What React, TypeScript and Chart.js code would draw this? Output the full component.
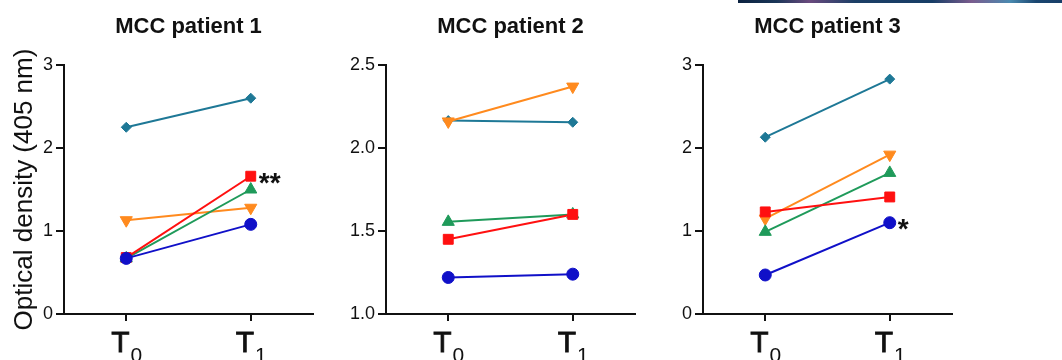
import React, { useEffect, useRef } from 'react';
import { Chart, registerables } from 'chart.js';
import { drawPoint } from 'chart.js/helpers';

Chart.register(...registerables);

const FONT = '"Liberation Sans", Arial, sans-serif';

// ---- data ----
const timepoints = ['T0', 'T1'];
const seriesNames = ['LT1', 'LT2', 'LT4', 'sT1', 'sT3'];
const seriesColors = ['#1010c8', '#ff1010', '#1f9a5a', '#ff8a1e', '#1e7896'];
const pointStyles = ['circle', 'rect', 'triangle', 'triangle', 'rectRot'];
const pointRotations = [0, 0, 0, 180, 0];
const pointRadii = [6, 7, 7, 7, 5];

const patient1LT1 = [0.67, 1.08];
const patient1LT2 = [0.68, 1.66];
const patient1LT4 = [0.67, 1.5];
const patient1sT1 = [1.13, 1.28];
const patient1sT3 = [2.25, 2.6];

const patient2LT1 = [1.22, 1.24];
const patient2LT2 = [1.45, 1.6];
const patient2LT4 = [1.555, 1.6];
const patient2sT1 = [2.16, 2.37];
const patient2sT3 = [2.165, 2.155];

const patient3LT1 = [0.47, 1.1];
const patient3LT2 = [1.23, 1.41];
const patient3LT4 = [0.99, 1.7];
const patient3sT1 = [1.15, 1.92];
const patient3sT3 = [2.13, 2.83];

const panelTitles = ['MCC patient 1', 'MCC patient 2', 'MCC patient 3'];
const yTicksPatient1 = [0, 1, 2, 3];
const yTickLabelsPatient1 = ['0', '1', '2', '3'];
const yTicksPatient2 = [1.0, 1.5, 2.0, 2.5];
const yTickLabelsPatient2 = ['1.0', '1.5', '2.0', '2.5'];
const yTicksPatient3 = [0, 1, 2, 3];
const yTickLabelsPatient3 = ['0', '1', '2', '3'];
const yAxisTitle = 'Optical density (405 nm)';

// significance marks
const marksPatient1 = [{ series: 1, time: 1, text: '**' }];
const marksPatient2: { series: number; time: number; text: string }[] = [];
const marksPatient3 = [{ series: 0, time: 1, text: '*' }];

// ---- layout ----
const legendRowsY = [45, 79, 113, 147, 176];

type PanelDef = {
  data: number[][];
  yTicks: number[];
  yLabels: string[];
  title: string;
  yWidth: number;
  padRight: number;
  showYTitle: boolean;
  marks: { series: number; time: number; text: string }[];
  legend: boolean;
};

const panels: PanelDef[] = [
  {
    data: [patient1LT1, patient1LT2, patient1LT4, patient1sT1, patient1sT3],
    yTicks: yTicksPatient1,
    yLabels: yTickLabelsPatient1,
    title: panelTitles[0],
    yWidth: 64,
    padRight: 17,
    showYTitle: true,
    marks: marksPatient1,
    legend: false,
  },
  {
    data: [patient2LT1, patient2LT2, patient2LT4, patient2sT1, patient2sT3],
    yTicks: yTicksPatient2,
    yLabels: yTickLabelsPatient2,
    title: panelTitles[1],
    yWidth: 56,
    padRight: 15,
    showYTitle: false,
    marks: marksPatient2,
    legend: false,
  },
  {
    data: [patient3LT1, patient3LT2, patient3LT4, patient3sT1, patient3sT3],
    yTicks: yTicksPatient3,
    yLabels: yTickLabelsPatient3,
    title: panelTitles[2],
    yWidth: 53,
    padRight: 110,
    showYTitle: false,
    marks: marksPatient3,
    legend: true,
  },
];

const canvasLefts = [0, 330, 650];
const canvasWidths = [330, 320, 412];

function decorPlugin(p: PanelDef) {
  return {
    id: 'panelDecor',
    afterDraw(chart: any) {
      const ctx = chart.ctx as CanvasRenderingContext2D;
      const area = chart.chartArea;
      ctx.save();
      ctx.fillStyle = '#111';
      // panel title
      ctx.font = `bold 22px ${FONT}`;
      ctx.textAlign = 'center';
      ctx.textBaseline = 'middle';
      ctx.fillText(p.title, (area.left + area.right) / 2, 27);

      // x labels with subscripts
      const xs = chart.scales.x;
      timepoints.forEach((lab, i) => {
        const x = xs.getPixelForValue(i);
        const main = lab.slice(0, 1);
        const sub = lab.slice(1);
        ctx.font = `30px ${FONT}`;
        const wm = ctx.measureText(main).width;
        ctx.font = `21px ${FONT}`;
        const ws = ctx.measureText(sub).width;
        const start = x - (wm + ws) / 2;
        ctx.textAlign = 'left';
        ctx.textBaseline = 'alphabetic';
        ctx.font = `30px ${FONT}`;
        ctx.fillText(main, start, 352);
        ctx.lineWidth = 0.8;
        ctx.strokeStyle = '#111';
        ctx.strokeText(main, start, 352);
        ctx.font = `21px ${FONT}`;
        ctx.fillText(sub, start + wm + 1, 362);
      });

      // significance marks
      p.marks.forEach((m) => {
        const meta = chart.getDatasetMeta(m.series);
        const pt = meta.data[m.time];
        ctx.font = `bold 28px ${FONT}`;
        ctx.textAlign = 'left';
        ctx.textBaseline = 'alphabetic';
        ctx.fillText(m.text, pt.x + 8, pt.y + 0.55 * 28);
      });

      // legend
      if (p.legend) {
        seriesNames.forEach((name, i) => {
          const y = legendRowsY[i];
          ctx.strokeStyle = seriesColors[i];
          ctx.fillStyle = seriesColors[i];
          ctx.lineWidth = 2;
          ctx.beginPath();
          ctx.moveTo(990, y);
          ctx.lineTo(1016, y);
          ctx.stroke();
          drawPoint(ctx, {
            pointStyle: pointStyles[i],
            radius: pointRadii[i] * 0.8,
            rotation: pointRotations[i],
            borderWidth: 1,
          } as any, 1003, y);
          ctx.fillStyle = '#111';
          ctx.font = `18px ${FONT}`;
          ctx.textAlign = 'left';
          ctx.textBaseline = 'middle';
          ctx.fillText(name, 1030, y + 1);
        });
      }
      ctx.restore();
    },
  };
}

function makeConfig(p: PanelDef): any {
  const axisColor = '#111';
  return {
    type: 'line',
    data: {
      labels: timepoints,
      datasets: seriesNames.map((name, i) => ({
        label: name,
        data: p.data[i],
        borderColor: seriesColors[i],
        backgroundColor: seriesColors[i],
        pointBackgroundColor: seriesColors[i],
        pointBorderColor: seriesColors[i],
        borderWidth: 2,
        pointBorderWidth: 1,
        pointStyle: pointStyles[i],
        pointRotation: pointRotations[i],
        pointRadius: pointRadii[i],
        pointHoverRadius: pointRadii[i],
        tension: 0,
      })),
    },
    options: {
      animation: false,
      responsive: false,
      events: [],
      layout: { padding: { top: 65, right: p.padRight, left: 0, bottom: 0 } },
      plugins: {
        legend: { display: false },
        tooltip: { enabled: false },
        title: { display: false },
      },
      scales: {
        x: {
          type: 'category',
          offset: true,
          grid: { drawOnChartArea: false, drawTicks: true, tickLength: 7, color: axisColor, lineWidth: 2 },
          border: { display: true, color: axisColor, width: 2 },
          ticks: { display: false },
          afterFit: (s: any) => {
            s.height = 46;
          },
        },
        y: {
          type: 'linear',
          min: p.yTicks[0],
          max: p.yTicks[p.yTicks.length - 1],
          afterBuildTicks: (s: any) => {
            s.ticks = p.yTicks.map((v) => ({ value: v }));
          },
          ticks: {
            callback: (_v: any, idx: number) => p.yLabels[idx],
            font: { family: FONT, size: 18 },
            color: axisColor,
            padding: 3,
          },
          grid: { drawOnChartArea: false, drawTicks: true, tickLength: 8, color: axisColor, lineWidth: 2 },
          border: { display: true, color: axisColor, width: 2 },
          title: p.showYTitle
            ? { display: true, text: yAxisTitle, font: { family: FONT, size: 26 }, color: axisColor, padding: { top: 9, bottom: 0 } }
            : { display: false },
          afterFit: (s: any) => {
            s.width = p.yWidth;
          },
        },
      },
    },
    plugins: [decorPlugin(p)],
  };
}

export default function App() {
  const ref0 = useRef<HTMLCanvasElement>(null);
  const ref1 = useRef<HTMLCanvasElement>(null);
  const ref2 = useRef<HTMLCanvasElement>(null);

  useEffect(() => {
    const refs = [ref0, ref1, ref2];
    const charts = refs.map((r, i) => new Chart(r.current as HTMLCanvasElement, makeConfig(panels[i])));
    return () => charts.forEach((c) => c.destroy());
  }, []);

  const refs = [ref0, ref1, ref2];
  return (
    <div style={{ position: 'absolute', left: 0, top: 0, width: 1062, height: 360, overflow: 'hidden', background: '#fff' }}>
      <div
        style={{
          position: 'absolute',
          left: 738,
          top: 0,
          width: 324,
          height: 3,
          background:
            'linear-gradient(90deg, #0b2240 0%, #1b3658 12%, #6a4a7e 22%, #1c3f66 36%, #173d66 60%, #7a5c8e 72%, #4a8ab0 84%, #1a4670 92%, #183e68 100%)',
        }}
      />
      {refs.map((r, i) => (
        <canvas
          key={i}
          ref={r}
          width={canvasWidths[i]}
          height={360}
          style={{ position: 'absolute', left: canvasLefts[i], top: 0, width: canvasWidths[i], height: 360 }}
        />
      ))}
    </div>
  );
}
